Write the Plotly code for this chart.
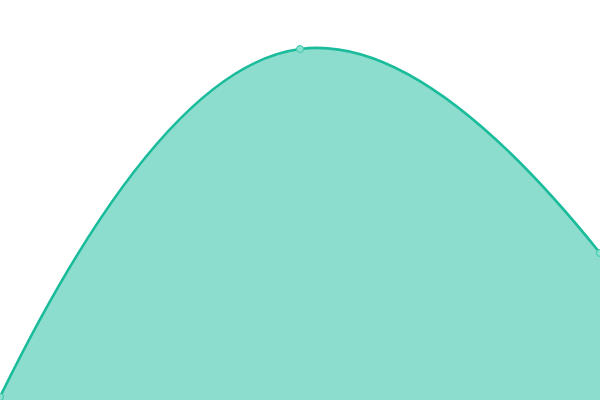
import plotly.graph_objects as go

# Three points of the area series
x_vals = [0, 1, 2]
y_vals = [3, 351, 147]

fig = go.Figure()

fig.add_trace(go.Scatter(
    x=x_vals,
    y=y_vals,
    mode='lines+markers',
    line=dict(color='#1abc9c', width=2.6, shape='spline', smoothing=1.3),
    marker=dict(size=7, color='#8ce0cf', line=dict(color='#3cc7a9', width=1)),
    fill='tozeroy',
    fillcolor='rgba(26,188,156,0.5)',
    showlegend=False,
    hoverinfo='skip'
))

fig.update_layout(
    width=600,
    height=400,
    margin=dict(l=0, r=0, t=0, b=0),
    paper_bgcolor='white',
    plot_bgcolor='white',
    xaxis=dict(visible=False, range=[0, 2]),
    yaxis=dict(visible=False, range=[0, 400]),
)

# drop the default page margin so the plot sits at the window corner
fig.write_html("out.html", config={'displayModeBar': False},
               post_script="document.body.style.margin='0';")
